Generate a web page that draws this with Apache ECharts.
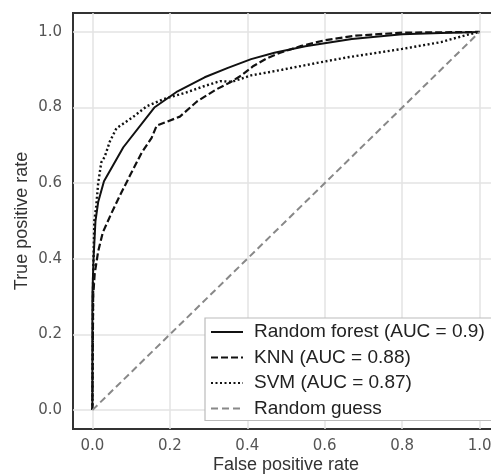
<!DOCTYPE html>
<html>
	<head>
		<meta charset="UTF-8">
		<title>ROC</title>
	</head>
	<style>
		*{margin:0;padding:0;}
		html,body{height:100%;background:#fff;overflow:hidden;}
		.roc{width:491px;height:474px;}
	</style>
	<body>
		<div id='roc' class='roc'></div>
	</body>
	<script src="https://cdn.jsdelivr.net/npm/echarts@6/dist/echarts.min.js"></script>
	<script>
		// tick labels
		var ticks=[0,0.2,0.4,0.6,0.8,1.0];
		// curves as [fpr, tpr]
		var rf=[[0,0],[0,0.3],[0.003,0.4],[0.008,0.5],[0.015,0.55],[0.03,0.605],[0.08,0.695],[0.16,0.8],[0.22,0.843],[0.29,0.88],[0.35,0.905],[0.41,0.928],[0.47,0.945],[0.55,0.962],[0.67,0.981],[0.8,0.994],[0.9,0.997],[1,1]];
		var knn=[[0,0],[0.002,0.3],[0.006,0.36],[0.015,0.42],[0.027,0.47],[0.049,0.52],[0.071,0.567],[0.097,0.62],[0.127,0.68],[0.153,0.72],[0.166,0.752],[0.226,0.776],[0.27,0.816],[0.32,0.848],[0.355,0.866],[0.385,0.885],[0.416,0.91],[0.45,0.93],[0.485,0.945],[0.54,0.963],[0.6,0.978],[0.68,0.99],[0.8,0.998],[1,1]];
		var svm=[[0,0],[0.002,0.35],[0.005,0.5],[0.01,0.54],[0.015,0.6],[0.023,0.655],[0.032,0.67],[0.045,0.71],[0.062,0.745],[0.105,0.775],[0.14,0.803],[0.183,0.822],[0.243,0.84],[0.29,0.857],[0.33,0.87],[0.36,0.868],[0.41,0.885],[0.49,0.9],[0.58,0.918],[0.66,0.933],[0.8,0.955],[0.9,0.973],[0.97,0.993],[1,1]];
		var guess=[[0,0],[1,1]];
		var names=['Random forest (AUC = 0.9)','KNN (AUC = 0.88)','SVM (AUC = 0.87)','Random guess'];

		var lbl={fontFamily:'DejaVu Sans',fontSize:15,color:'#555'};
		var gridLine={show:true,lineStyle:{color:'#e3e3e3',width:1.5}};
		function line(name,data,color,type,w){
			return {name:name,type:'line',data:data,symbol:'none',showSymbol:false,
				lineStyle:{color:color,width:w,type:type},itemStyle:{color:color},
				silent:true,animation:false};
		}
		var chart=echarts.init(document.getElementById('roc'));
		chart.setOption({
			animation:false,
			grid:{left:73,top:13,width:426,height:416,show:true,borderColor:'#333',borderWidth:2,
				containLabel:false,outerBoundsMode:'none'},
			xAxis:{type:'value',min:-0.05,max:1.05,
				name:'False positive rate',nameLocation:'middle',nameGap:27,nameMoveOverlap:false,
				nameTextStyle:{fontFamily:'Liberation Sans',fontSize:18,color:'#333'},
				axisLine:{show:false},
				axisTick:{show:false,customValues:ticks},
				axisLabel:{customValues:ticks,margin:10,formatter:function(v){return v.toFixed(1);},fontFamily:lbl.fontFamily,fontSize:lbl.fontSize,color:lbl.color},
				splitLine:gridLine},
			yAxis:{type:'value',min:-0.05,max:1.05,
				name:'True positive rate',nameLocation:'middle',nameGap:42,nameMoveOverlap:false,
				nameTextStyle:{fontFamily:'Liberation Sans',fontSize:18,color:'#333'},
				axisLine:{show:false},
				axisTick:{show:false,customValues:ticks},
				axisLabel:{customValues:ticks,margin:11,formatter:function(v){return v.toFixed(1);},fontFamily:lbl.fontFamily,fontSize:lbl.fontSize,color:lbl.color},
				splitLine:gridLine},
			legend:{orient:'vertical',left:205,top:318,
				data:names,
				backgroundColor:'#fff',borderColor:'#bbb',borderWidth:1.2,borderRadius:0,
				padding:[4,40,2,5],itemWidth:32,itemHeight:14,itemGap:5.5,
				itemStyle:{opacity:0},
				textStyle:{fontFamily:'Liberation Sans',fontSize:19,lineHeight:20,color:'#222',padding:[0,0,0,6]},
				selectedMode:false},
			series:[
				line(names[0],rf,'#111','solid',2),
				line(names[1],knn,'#111',[7,3],2.2),
				line(names[2],svm,'#111',[2,2.5],2.4),
				line(names[3],guess,'#888',[7,4],2)
			]
		});
	</script>
</html>
